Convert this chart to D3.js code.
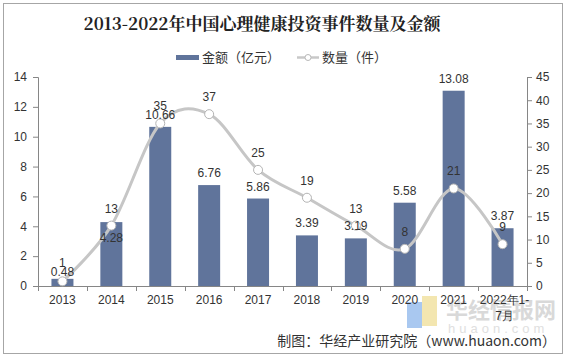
<!DOCTYPE html>
<html><head><meta charset="utf-8">
<script src="https://cdn.jsdelivr.net/npm/d3@7"></script>
<style>body{margin:0;background:#fff;}svg{display:block;}</style>
</head><body>
<script>
const categories = ["2013","2014","2015","2016","2017","2018","2019","2020","2021","2022年1-7月"];
const amounts = [0.48,4.28,10.66,6.76,5.86,3.39,3.19,5.58,13.08,3.87];
const counts = [1,13,35,37,25,19,13,8,21,9];
const leftTicks = [0,2,4,6,8,10,12,14];
const rightTicks = [0,5,10,15,20,25,30,35,40,45];

const W=567,H=357;
const svg=d3.select("body").append("svg").attr("width",W).attr("height",H);
svg.append("rect").attr("x",3.5).attr("y",3.5).attr("width",559).attr("height",350).attr("fill","#fff").attr("stroke","#a6a6a6").attr("stroke-width",1);

const font="Liberation Sans, Arial, sans-serif";
const cjk="'Noto Sans CJK SC', sans-serif";
const L=38,R=527,T=77,B=286;
const x=d3.scaleBand().domain(categories).range([L,R]);
const yL=d3.scaleLinear().domain([0,14]).range([B,T]);
const yR=d3.scaleLinear().domain([0,45]).range([B,T]);

// title
svg.append("text").attr("x",262).attr("y",30).attr("text-anchor","middle")
 .attr("font-family","'Noto Serif CJK SC','Noto Sans CJK SC',serif").attr("font-weight","bold").attr("font-size",17).attr("fill","#222")
 .text("2013-2022年中国心理健康投资事件数量及金额");

// legend
svg.append("rect").attr("x",176).attr("y",55).attr("width",23).attr("height",5).attr("fill","#60749b");
svg.append("text").attr("x",202).attr("y",62).attr("font-family",cjk).attr("font-size",13).attr("fill","#333").text("金额（亿元）");
svg.append("line").attr("x1",297).attr("x2",319).attr("y1",57.5).attr("y2",57.5).attr("stroke","#c8c8c8").attr("stroke-width",2.5);
svg.append("circle").attr("cx",308).attr("cy",57.5).attr("r",3).attr("fill","#fff").attr("stroke","#b8b8b8").attr("stroke-width",1);
svg.append("text").attr("x",322).attr("y",62).attr("font-family",cjk).attr("font-size",13).attr("fill","#333").text("数量（件）");

// watermark
const wm=svg.append("g");
wm.append("rect").attr("x",407).attr("y",302).attr("width",15).attr("height",26).attr("fill","#a9c8f0");
wm.append("rect").attr("x",422).attr("y",296).attr("width",15).attr("height",30).attr("fill","#f3e6b0");
wm.append("text").attr("x",446).attr("y",318).attr("font-family",cjk).attr("font-weight","bold").attr("font-size",22).attr("fill","#d9d9d9").text("华经情报网");
wm.append("text").attr("x",448).attr("y",333).attr("font-family",font).attr("font-size",13).attr("letter-spacing",4).attr("fill","#e0e0e0").text("huaon.com");

// bars
svg.append("g").selectAll("rect").data(amounts).join("rect")
 .attr("x",(d,i)=>x(categories[i])+x.bandwidth()/2-11)
 .attr("width",22)
 .attr("y",d=>yL(d)).attr("height",d=>B-yL(d)).attr("fill","#60749b");

// axes
const axL=d3.axisLeft(yL).tickValues(leftTicks).tickSize(5).tickPadding(6);
const gL=svg.append("g").attr("transform",`translate(${L},0)`).call(axL);
const axR=d3.axisRight(yR).tickValues(rightTicks).tickSize(5).tickPadding(4);
const gR=svg.append("g").attr("transform",`translate(${R},0)`).call(axR);
[gL,gR].forEach(g=>{
 g.select(".domain").attr("stroke","#868686");
 g.selectAll(".tick line").attr("stroke","#868686");
 g.selectAll(".tick text").attr("font-family",font).attr("font-size",12).attr("fill","#333");
});
// x axis
const gx=svg.append("g");
gx.append("line").attr("x1",L).attr("x2",R).attr("y1",B+0.5).attr("y2",B+0.5).attr("stroke","#868686");
const bounds=categories.map(c=>x(c)).concat([R]);
gx.selectAll("line.t").data(bounds).join("line").attr("class","t")
 .attr("x1",d=>Math.round(d)+0.5).attr("x2",d=>Math.round(d)+0.5).attr("y1",B).attr("y2",B+5).attr("stroke","#868686");
categories.forEach((c,i)=>{
 const cx=x(c)+x.bandwidth()/2;
 const t=gx.append("text").attr("x",cx).attr("y",304).attr("text-anchor","middle")
  .attr("font-family",font).attr("font-size",12).attr("fill","#333");
 if(c.length>4){
  t.append("tspan").attr("x",cx+2).attr("y",304).text("2022年1-");
  t.append("tspan").attr("x",cx+2).attr("y",320).text("7月");
 } else t.text(c);
});

// line
const pts=counts.map((d,i)=>[x(categories[i])+x.bandwidth()/2,yR(d)]);
svg.append("path").attr("d",d3.line().curve(d3.curveCardinal.tension(0))(pts))
 .attr("fill","none").attr("stroke","#c6c6c6").attr("stroke-width",3);
svg.append("g").selectAll("circle").data(pts).join("circle")
 .attr("cx",d=>d[0]).attr("cy",d=>d[1]).attr("r",4.5).attr("fill","#fff").attr("stroke","#b4b4b4").attr("stroke-width",1);

// labels (label placement tweaks as in the original chart)
const amountLabelDy = i => i===0 ? -3 : (i===1 ? 20 : -8);
const countLabelDy = i => i===0 ? -14 : -13;
svg.append("g").selectAll("text").data(amounts).join("text")
 .attr("x",(d,i)=>x(categories[i])+x.bandwidth()/2).attr("y",(d,i)=>yL(d)+amountLabelDy(i))
 .attr("text-anchor","middle").attr("font-family",font).attr("font-size",12).attr("fill","#333")
 .text(d=>d.toFixed(2));
svg.append("g").selectAll("text").data(counts).join("text")
 .attr("x",(d,i)=>x(categories[i])+x.bandwidth()/2).attr("y",(d,i)=>yR(d)+countLabelDy(i))
 .attr("text-anchor","middle").attr("font-family",font).attr("font-size",12).attr("fill","#333")
 .text(d=>d);

// source
svg.append("text").attr("x",556).attr("y",346).attr("text-anchor","end").attr("font-family",cjk).attr("font-size",14).attr("fill","#333")
 .text("制图：华经产业研究院（www.huaon.com）");
</script>
</body></html>
